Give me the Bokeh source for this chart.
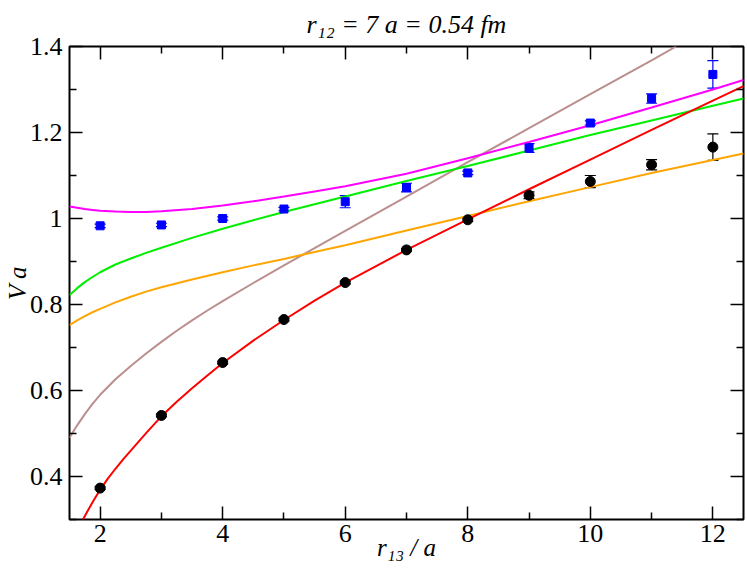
from bokeh.plotting import figure
from bokeh.models import (Range1d, LinearAxis, FixedTicker, CustomJSTickFormatter,
                          Whisker, TeeHead, ColumnDataSource)
from bokeh.embed import file_html
from bokeh.resources import INLINE

# ---------------- data ----------------
r13 = [2, 3, 4, 5, 6, 7, 8, 9, 10, 11, 12]

blue_v = [0.983, 0.985, 1.000, 1.022, 1.039, 1.072, 1.106, 1.164, 1.222, 1.279, 1.335]
blue_err = [0.004, 0.004, 0.004, 0.004, 0.014, 0.010, 0.004, 0.010, 0.005, 0.011, 0.032]

black_v = [0.373, 0.542, 0.665, 0.765, 0.851, 0.927, 0.997, 1.054, 1.086, 1.125, 1.166]
black_err = [0.003, 0.003, 0.003, 0.003, 0.003, 0.003, 0.004, 0.008, 0.014, 0.012, 0.031]

red_x = [1.72, 1.8, 1.9, 2.0, 2.125, 2.25, 2.375, 2.5, 2.75, 3.0, 3.25, 3.5, 3.75, 4.0,
         4.5, 5.0, 5.5, 6.0, 7.0, 8.0, 9.0, 10.0, 11.0, 12.0, 12.5]
red_y = [0.300, 0.321, 0.346, 0.369, 0.395, 0.418, 0.440, 0.460, 0.501, 0.540, 0.574, 0.605, 0.635, 0.664,
         0.716, 0.764, 0.809, 0.851, 0.927, 0.998, 1.068, 1.137, 1.206, 1.274, 1.308]

curve_x = [1.5, 1.625, 1.75, 1.875, 2.0, 2.25, 2.5, 2.75, 3.0, 3.5, 4.0, 4.5, 5.0, 5.5, 6.0,
           7.0, 8.0, 9.0, 10.0, 11.0, 12.0, 12.5]
magenta_y = [1.028, 1.025, 1.022, 1.020, 1.018, 1.016, 1.015, 1.015, 1.017, 1.022, 1.030, 1.040, 1.051, 1.063, 1.075,
             1.104, 1.140, 1.178, 1.217, 1.258, 1.300, 1.322]
green_y = [0.822, 0.838, 0.852, 0.864, 0.875, 0.893, 0.907, 0.920, 0.932, 0.955, 0.976, 0.996, 1.015, 1.033, 1.051,
           1.087, 1.122, 1.158, 1.194, 1.228, 1.262, 1.279]
orange_y = [0.752, 0.763, 0.773, 0.782, 0.790, 0.805, 0.818, 0.830, 0.840, 0.858, 0.875, 0.891, 0.906, 0.922, 0.938,
            0.972, 1.006, 1.040, 1.073, 1.106, 1.136, 1.151]

brown_x = [1.5, 1.625, 1.75, 1.875, 2.0, 2.25, 2.5, 2.75, 3.0, 3.25, 3.5, 3.75, 4.0, 4.5, 5.0, 5.5, 6.0,
           7.0, 8.0, 9.0, 10.0, 11.0, 11.4]
brown_y = [0.490, 0.519, 0.545, 0.569, 0.590, 0.626, 0.657, 0.686, 0.713, 0.739, 0.763, 0.786, 0.808, 0.850, 0.891,
           0.931, 0.971, 1.051, 1.131, 1.210, 1.289, 1.368, 1.400]

x_ticks = [2, 4, 6, 8, 10, 12]
x_minor = [1, 3, 5, 7, 9, 11, 13]
y_ticks = [0.4, 0.6, 0.8, 1.0, 1.2, 1.4]
y_tick_labels = ["0.4", "0.6", "0.8", "1", "1.2", "1.4"]
y_minor = [0.3, 0.5, 0.7, 0.9, 1.1, 1.3]

title_text = "r\u2081\u2082 = 7 a = 0.54 fm"
x_label = "r\u2081\u2083 / a"
y_label = "V a"

# ---------------- figure ----------------
FONT = "Liberation Serif"

p = figure(width=747, height=584, x_range=Range1d(1.5, 12.5), y_range=Range1d(0.3, 1.4),
           output_backend="svg", toolbar_location=None)
p.min_border_left = 69
p.min_border_right = 4
p.min_border_top = 46
p.min_border_bottom = 65
p.outline_line_color = "black"
p.outline_line_width = 2
p.xgrid.visible = False
p.ygrid.visible = False
p.background_fill_color = "white"
p.border_fill_color = "white"

p.title.text = title_text
p.title.align = "center"
p.title.text_font = FONT
p.title.text_font_style = "italic"
p.title.text_font_size = "26px"
p.title.text_color = "black"
p.title.standoff = 15

xticker = FixedTicker(ticks=x_ticks, minor_ticks=x_minor)
yticker = FixedTicker(ticks=y_ticks, minor_ticks=y_minor)


def style(ax):
    ax.axis_line_color = None
    ax.major_tick_in = 13
    ax.major_tick_out = 0
    ax.minor_tick_in = 7
    ax.minor_tick_out = 0
    ax.major_tick_line_color = "black"
    ax.minor_tick_line_color = "black"
    ax.major_tick_line_width = 1.5
    ax.minor_tick_line_width = 1.5
    ax.major_label_text_font = FONT
    ax.major_label_text_font_size = "26px"
    ax.major_label_text_color = "black"
    ax.axis_label_text_font = FONT
    ax.axis_label_text_font_style = "italic"
    ax.axis_label_text_font_size = "25px"
    ax.axis_label_text_color = "black"


bx_ax = p.xaxis[0]
style(bx_ax)
bx_ax.ticker = xticker
bx_ax.major_label_standoff = 5
bx_ax.axis_label = x_label
bx_ax.axis_label_standoff = -11

ly_ax = p.yaxis[0]
style(ly_ax)
ly_ax.ticker = yticker
ly_ax.major_label_standoff = 7
ly_ax.major_label_overrides = dict(zip(y_ticks, y_tick_labels))
ly_ax.formatter = CustomJSTickFormatter(code="return Number(tick.toFixed(1)).toString()")
ly_ax.axis_label = y_label
ly_ax.axis_label_standoff = -4

empty = "return ''"
top_ax = LinearAxis(ticker=xticker, formatter=CustomJSTickFormatter(code=empty))
style(top_ax)
top_ax.major_label_text_font_size = "0px"
top_ax.major_label_standoff = 0
p.add_layout(top_ax, "above")

right_ax = LinearAxis(ticker=yticker, formatter=CustomJSTickFormatter(code=empty))
style(right_ax)
right_ax.major_label_text_font_size = "0px"
right_ax.major_label_standoff = 0
p.add_layout(right_ax, "right")

# ---------------- curves ----------------
LW = 2
p.line(brown_x, brown_y, line_color="#bc8f8f", line_width=LW)
p.line(curve_x, orange_y, line_color="#ffa500", line_width=LW)
p.line(curve_x, green_y, line_color="#00ee00", line_width=LW)
p.line(curve_x, magenta_y, line_color="#ff00ff", line_width=LW)
p.line(red_x, red_y, line_color="#ff0000", line_width=LW)

# ---------------- points with error bars ----------------
blue_src = ColumnDataSource(dict(x=r13, y=blue_v,
                                 upper=[v + e for v, e in zip(blue_v, blue_err)],
                                 lower=[v - e for v, e in zip(blue_v, blue_err)]))
black_src = ColumnDataSource(dict(x=r13, y=black_v,
                                  upper=[v + e for v, e in zip(black_v, black_err)],
                                  lower=[v - e for v, e in zip(black_v, black_err)]))

for src, col in ((blue_src, "#0000ff"), (black_src, "#000000")):
    w = Whisker(source=src, base="x", upper="upper", lower="lower",
                line_color=col, line_width=1.2,
                upper_head=TeeHead(size=11, line_color=col, line_width=1.2),
                lower_head=TeeHead(size=11, line_color=col, line_width=1.2))
    p.add_layout(w)

p.scatter("x", "y", source=blue_src, marker="square", size=8, fill_color="#0000ff",
          line_color="#0000ff")
p.scatter("x", "y", source=black_src, marker="circle", size=10, fill_color="black",
          line_color="black")

open("out.html", "w").write(file_html(p, INLINE))
